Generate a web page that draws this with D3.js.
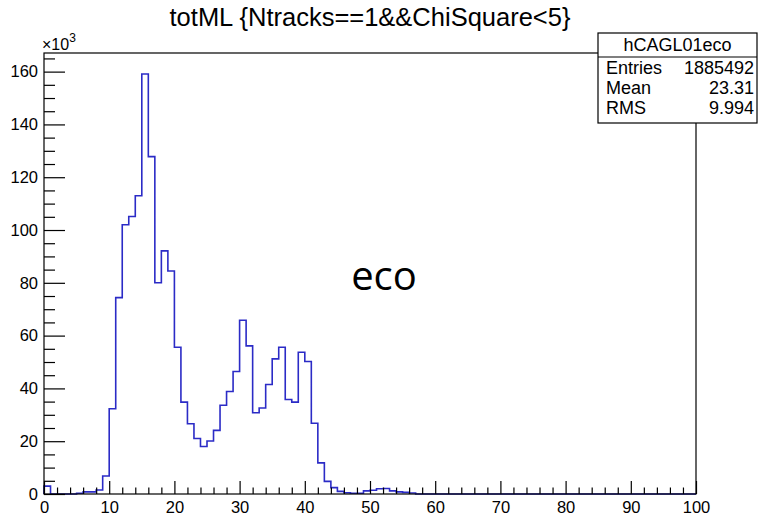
<!DOCTYPE html>
<html>
<head>
<meta charset="utf-8">
<script src="https://cdn.jsdelivr.net/npm/d3@7/dist/d3.min.js"></script>
<style>
  html, body { margin: 0; padding: 0; background: #fff; }
  svg { display: block; }
  text { font-family: "Liberation Sans", Arial, Helvetica, sans-serif; fill: #000; }
</style>
</head>
<body>
<svg id="chart" width="758" height="523"></svg>
<script>
// Histogram of totML, 100 bins of width 1 from 0 to 100 (counts in thousands)
const binEdges = d3.range(0, 101);
const counts = [
  3.0, 0, 0, 0, 0, 0.3, 0.8, 0.8, 1.5, 6.8,
  32.3, 74.4, 102.0, 105.1, 113.0, 159.1, 127.8, 80.0, 92.1, 84.5,
  55.6, 34.8, 26.6, 21.0, 18.0, 20.1, 24.1, 33.6, 38.8, 46.4,
  65.8, 56.1, 30.8, 32.6, 41.5, 51.2, 55.6, 35.8, 34.8, 53.7,
  50.2, 26.8, 11.8, 4.8, 2.4, 1.0, 0.5, 0.3, 0.3, 1.2,
  1.4, 2.0, 2.1, 1.2, 0.8, 0.6, 0.4, 0, 0, 0,
  0, 0, 0, 0, 0, 0, 0, 0, 0, 0,
  0, 0, 0, 0, 0, 0, 0, 0, 0, 0,
  0, 0, 0, 0, 0, 0, 0, 0, 0, 0,
  0, 0, 0, 0, 0, 0, 0, 0, 0, 0
];
const xTickValues = [0, 10, 20, 30, 40, 50, 60, 70, 80, 90, 100];
const yTickValues = [0, 20, 40, 60, 80, 100, 120, 140, 160];

const titleText = "totML {Ntracks==1&&ChiSquare<5}";
const statsName = "hCAGL01eco";
const statsRows = [["Entries", "1885492"], ["Mean", "23.31"], ["RMS", "9.994"]];
const overlayText = "eco";

const svg = d3.select("#chart");
const frame = { left: 44, right: 696, top: 53, bottom: 494 };

const x = d3.scaleLinear().domain([0, 100]).range([frame.left, frame.right]);
const y = d3.scaleLinear().domain([0, d3.max(counts) * 1.05]).range([frame.bottom, frame.top]);

// Step outline of the histogram
const pts = [[binEdges[0], 0]];
counts.forEach((c, i) => {
  pts.push([binEdges[i], c]);
  pts.push([binEdges[i + 1], c]);
});
pts.push([binEdges[binEdges.length - 1], 0]);
const line = d3.line().x(d => x(d[0])).y(d => y(d[1]));
svg.append("path")
  .attr("d", line(pts))
  .attr("fill", "none")
  .attr("stroke", "#2b2bc6")
  .attr("stroke-width", 1.6)
  .attr("stroke-linejoin", "miter");

// Frame
svg.append("rect")
  .attr("x", frame.left).attr("y", frame.top)
  .attr("width", frame.right - frame.left).attr("height", frame.bottom - frame.top)
  .attr("fill", "none").attr("stroke", "#000").attr("stroke-width", 1.2);

// X axis: major every 10, minor every 2, ticks pointing up
const xMinor = d3.range(0, 101, 2).filter(v => v % 10 !== 0);
const xAxisMajor = d3.axisBottom(x).tickValues(xTickValues).tickSize(-13).tickPadding(7).tickFormat(d3.format("d"));
const xAxisMinor = d3.axisBottom(x).tickValues(xMinor).tickSize(-6.5).tickFormat("");
const gxMin = svg.append("g").attr("transform", `translate(0,${frame.bottom})`).call(xAxisMinor);
const gx = svg.append("g").attr("transform", `translate(0,${frame.bottom})`).call(xAxisMajor);
[gx, gxMin].forEach(g => {
  g.select(".domain").remove();
  g.selectAll("line").attr("stroke", "#000").attr("stroke-width", 1.2);
});
gx.selectAll("text").attr("font-size", 16.5).attr("font-family", "Liberation Sans, Arial, sans-serif").attr("fill", "#000");

// Y axis: major every 20, minor every 5, ticks pointing right
const yMinor = d3.range(0, y.domain()[1], 5).filter(v => v % 20 !== 0);
const yAxisMajor = d3.axisLeft(y).tickValues(yTickValues).tickSize(-21).tickPadding(6).tickFormat(d3.format("d"));
const yAxisMinor = d3.axisLeft(y).tickValues(yMinor).tickSize(-11).tickFormat("");
const gyMin = svg.append("g").attr("transform", `translate(${frame.left},0)`).call(yAxisMinor);
const gy = svg.append("g").attr("transform", `translate(${frame.left},0)`).call(yAxisMajor);
[gy, gyMin].forEach(g => {
  g.select(".domain").remove();
  g.selectAll("line").attr("stroke", "#000").attr("stroke-width", 1.2);
});
gy.selectAll("text").attr("font-size", 16.5).attr("font-family", "Liberation Sans, Arial, sans-serif").attr("fill", "#000").attr("x", -6);

// Exponent label above the y axis
const expo = svg.append("text").attr("x", 42).attr("y", 50).attr("font-size", 16);
expo.append("tspan").text("\u00d710");
expo.append("tspan").attr("font-size", 12).attr("dy", -8).text("3");

// Title
svg.append("text")
  .attr("x", 370).attr("y", 26)
  .attr("text-anchor", "middle")
  .attr("font-size", 25.5)
  .text(titleText);

// Overlay annotation
svg.append("text")
  .attr("x", 384).attr("y", 290)
  .attr("text-anchor", "middle")
  .style("font-family", "'Open Sans', Lato, sans-serif")
  .attr("font-size", 40)
  .text(overlayText);

// Statistics box
const box = { left: 598, top: 33, right: 757, bottom: 123, split: 57 };
const gs = svg.append("g");
gs.append("rect")
  .attr("x", box.left).attr("y", box.top)
  .attr("width", box.right - box.left).attr("height", box.bottom - box.top)
  .attr("fill", "#fff").attr("stroke", "#000").attr("stroke-width", 1.2);
gs.append("line")
  .attr("x1", box.left).attr("x2", box.right)
  .attr("y1", box.split).attr("y2", box.split)
  .attr("stroke", "#000").attr("stroke-width", 1.2);
gs.append("text")
  .attr("x", (box.left + box.right) / 2).attr("y", 51)
  .attr("text-anchor", "middle").attr("font-size", 18)
  .text(statsName);
statsRows.forEach((r, i) => {
  const yy = 74 + i * 20;
  gs.append("text").attr("x", box.left + 8).attr("y", yy).attr("font-size", 18).text(r[0]);
  gs.append("text").attr("x", box.right - 3).attr("y", yy).attr("text-anchor", "end").attr("font-size", 18).text(r[1]);
});
</script>
</body>
</html>
